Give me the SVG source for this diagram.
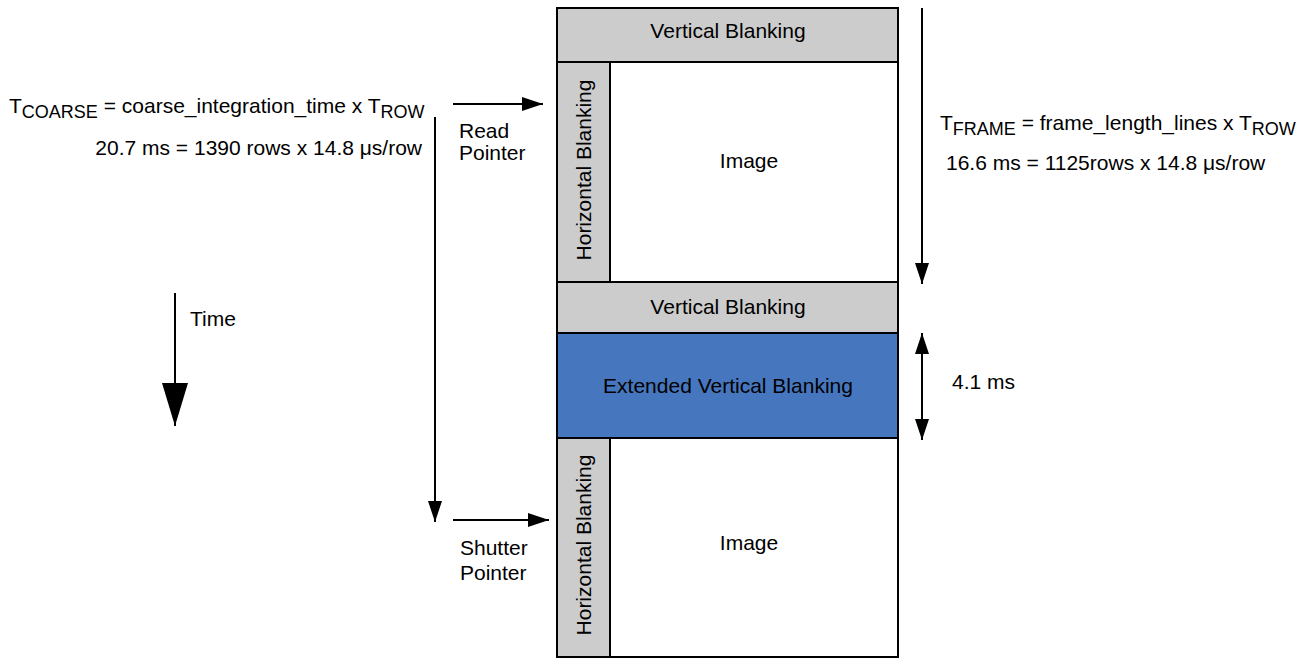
<svg xmlns="http://www.w3.org/2000/svg" width="1308" height="658" viewBox="0 0 1308 658">
<defs>
<style>
text{font-family:"Liberation Sans",Arial,Helvetica,sans-serif;font-size:21px;fill:#000}
.gray{fill:#cccccc;stroke:#000;stroke-width:2}
.white{fill:#ffffff;stroke:#000;stroke-width:2}
.blue{fill:#4677be;stroke:#000;stroke-width:2}
.line{stroke:#000;stroke-width:2;fill:none}
.c{text-anchor:middle}
.sub{font-size:18px}
</style>
<marker id="ah" markerUnits="userSpaceOnUse" markerWidth="22" markerHeight="14" refX="21" refY="7" orient="auto-start-reverse">
<path d="M0,0 L21,7 L0,14 Z" fill="#000"/>
</marker>
<marker id="big" markerUnits="userSpaceOnUse" markerWidth="44" markerHeight="26" refX="43" refY="13" orient="auto">
<path d="M0,0 L43,13 L0,26 Z" fill="#000"/>
</marker>
</defs>
<rect width="1308" height="658" fill="#fff"/>

<g id="vb-top">
<rect class="gray" x="557" y="8" width="341" height="54"/>
<text class="c" x="728" y="38">Vertical Blanking</text>
</g>
<g id="hb-top">
<rect class="gray" x="557" y="62" width="53" height="220"/>
<text class="c" transform="translate(591,170) rotate(-90)">Horizontal Blanking</text>
</g>
<g id="image-top">
<rect class="white" x="610" y="62" width="288" height="220"/>
<text class="c" x="749" y="168">Image</text>
</g>
<g id="vb-mid">
<rect class="gray" x="557" y="282" width="341" height="51"/>
<text class="c" x="728" y="314">Vertical Blanking</text>
</g>
<g id="evb">
<rect class="blue" x="557" y="333" width="341" height="105"/>
<text class="c" x="728" y="393">Extended Vertical Blanking</text>
</g>
<g id="hb-bottom">
<rect class="gray" x="557" y="438" width="53" height="219"/>
<text class="c" transform="translate(591,545) rotate(-90)">Horizontal Blanking</text>
</g>
<g id="image-bottom">
<rect class="white" x="610" y="438" width="288" height="219"/>
<text class="c" x="749" y="550">Image</text>
</g>

<g id="connectors">
<line class="line" x1="453" y1="104" x2="543" y2="104" marker-end="url(#ah)"/>
<line class="line" x1="453" y1="520" x2="549" y2="520" marker-end="url(#ah)"/>
<line class="line" x1="435" y1="117" x2="435" y2="522" marker-end="url(#ah)"/>
<line class="line" x1="922" y1="8" x2="922" y2="284" marker-end="url(#ah)"/>
<line class="line" x1="922" y1="333" x2="922" y2="440" marker-start="url(#ah)" marker-end="url(#ah)"/>
<line class="line" x1="175" y1="293" x2="175" y2="426" marker-end="url(#big)"/>
</g>

<g id="labels">
<text x="9" y="113">T<tspan class="sub" dy="5">COARSE</tspan><tspan dy="-5"> = coarse_integration_time x T</tspan><tspan class="sub" dy="5">ROW</tspan></text>
<text x="422" y="155" text-anchor="end">20.7 ms = 1390 rows x 14.8 μs/row</text>
<text x="459" y="138">Read</text>
<text x="459" y="160">Pointer</text>
<text x="460" y="555">Shutter</text>
<text x="460" y="580">Pointer</text>
<text x="940" y="130">T<tspan class="sub" dy="5">FRAME</tspan><tspan dy="-5"> = frame_length_lines x T</tspan><tspan class="sub" dy="5">ROW</tspan></text>
<text x="946" y="170">16.6 ms = 1125rows x 14.8 μs/row</text>
<text x="190" y="326">Time</text>
<text x="952" y="389">4.1 ms</text>
</g>
</svg>
